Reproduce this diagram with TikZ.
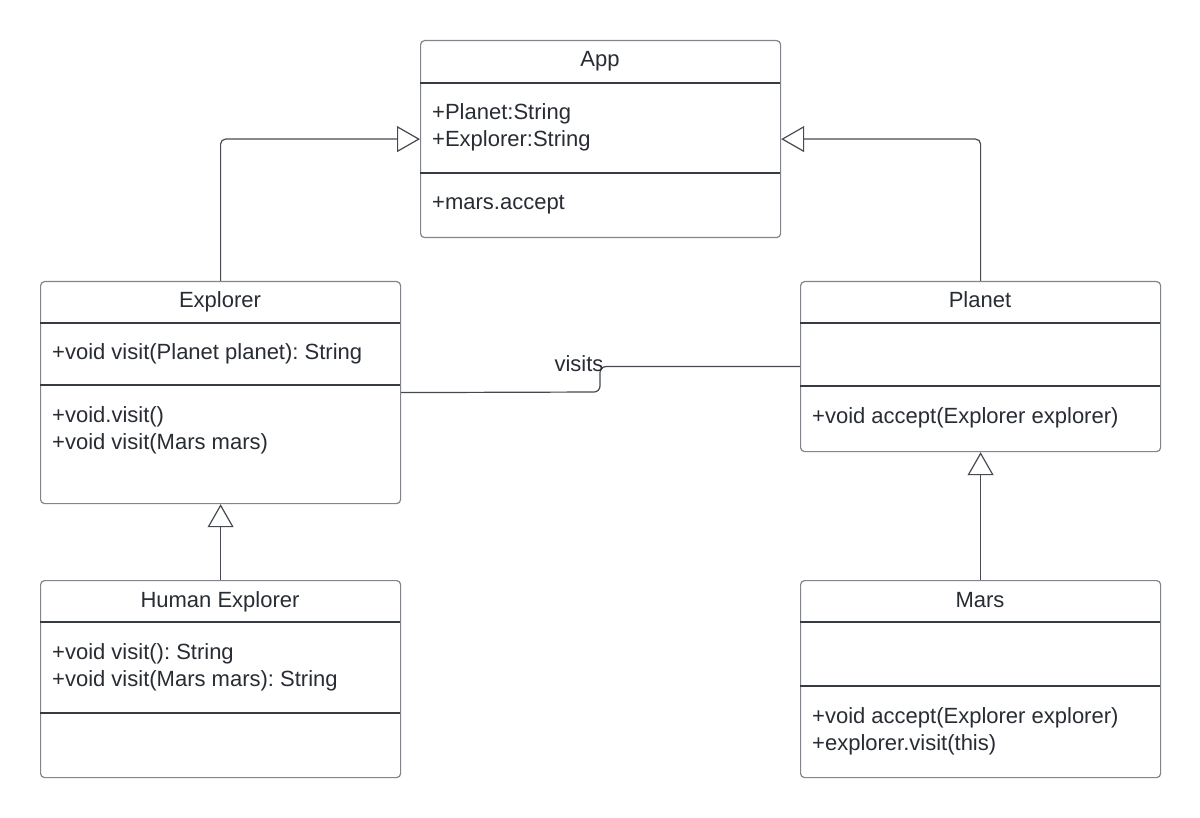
\documentclass[tikz,border=0pt]{standalone}
\usepackage{fontspec}
\setmainfont{Liberation Sans}
\usetikzlibrary{arrows.meta}
\definecolor{txt}{RGB}{40,44,51}
\definecolor{boxc}{RGB}{130,134,140}
\definecolor{sepc}{RGB}{55,60,66}
\definecolor{conc}{RGB}{70,74,80}
\frenchspacing
\begin{document}
\begin{tikzpicture}[x=1pt,y=-1pt, font=\fontsize{22}{28}\selectfont, text=txt,
 umlbox/.style={draw=boxc, line width=1.2pt, rounded corners=4pt, anchor=north west, inner sep=0pt, minimum width=360pt},
 sep/.style={draw=sepc, line width=1.2pt},
 lbl/.style={anchor=base west, inner sep=0pt},
 ttl/.style={anchor=base, inner sep=0pt},
 gen/.style={draw=conc, line width=1.2pt, -{Triangle[open, length=23pt, width=26pt, fill=white]}, rounded corners=5pt},
 assoc/.style={draw=conc, line width=1.2pt, rounded corners=6pt}]
\useasboundingbox[fill=white] (0,0) rectangle (1200,818);

% boxes
\node[umlbox, minimum height=197pt] (app) at (420,40) {};
\node[umlbox, minimum height=222pt] (explorer) at (40,281) {};
\node[umlbox, minimum height=170pt] (planet) at (800,281) {};
\node[umlbox, minimum height=197pt] (human) at (40,580) {};
\node[umlbox, minimum height=197pt] (mars) at (800,580) {};

% separators
\draw[sep] (420,83) -- (780,83);
\draw[sep] (420,173) -- (780,173);
\draw[sep] (40,323) -- (400,323);
\draw[sep] (40,385) -- (400,385);
\draw[sep] (800,323) -- (1160,323);
\draw[sep] (800,386) -- (1160,386);
\draw[sep] (40,622) -- (400,622);
\draw[sep] (40,713) -- (400,713);
\draw[sep] (800,622) -- (1160,622);
\draw[sep] (800,686) -- (1160,686);

% texts
\node[ttl] (appT) at (600,67) {App};
\node[lbl] (appA1) at (432,120) {+Planet:String};
\node[lbl] (appA2) at (432,147) {+Explorer:String};
\node[lbl] (appM1) at (432,210) {+mars.accept};

\node[ttl] (expT) at (220,308) {Explorer};
\node[lbl] (expA1) at (52,360) {+void visit(Planet planet): String};
\node[lbl] (expM1) at (52,422) {+void.visit()};
\node[lbl] (expM2) at (52,449) {+void visit(Mars mars)};

\node[ttl] (plaT) at (980,308) {Planet};
\node[lbl] (plaM1) at (812,423) {+void accept(Explorer explorer)};

\node[ttl] (humT) at (220,607) {Human Explorer};
\node[lbl] (humA1) at (52,659) {+void visit(): String};
\node[lbl] (humA2) at (52,686) {+void visit(Mars mars): String};

\node[ttl] (marT) at (980,607) {Mars};
\node[lbl] (marM1) at (812,723) {+void accept(Explorer explorer)};
\node[lbl] (marM2) at (812,750) {+explorer.visit(this)};

% connectors
\draw[gen] (explorer.north) |- (app.west);
\draw[gen] (planet.north) |- (app.east);
\draw[gen] (human.north) -- (explorer.south);
\draw[gen] (mars.north) -- (planet.south);
\coordinate (vb) at (600,392);
\draw[assoc] (explorer.east) -- (vb) |- (planet.west);
\node[ttl] (visits) at (579,371) {visits};
\end{tikzpicture}
\end{document}
